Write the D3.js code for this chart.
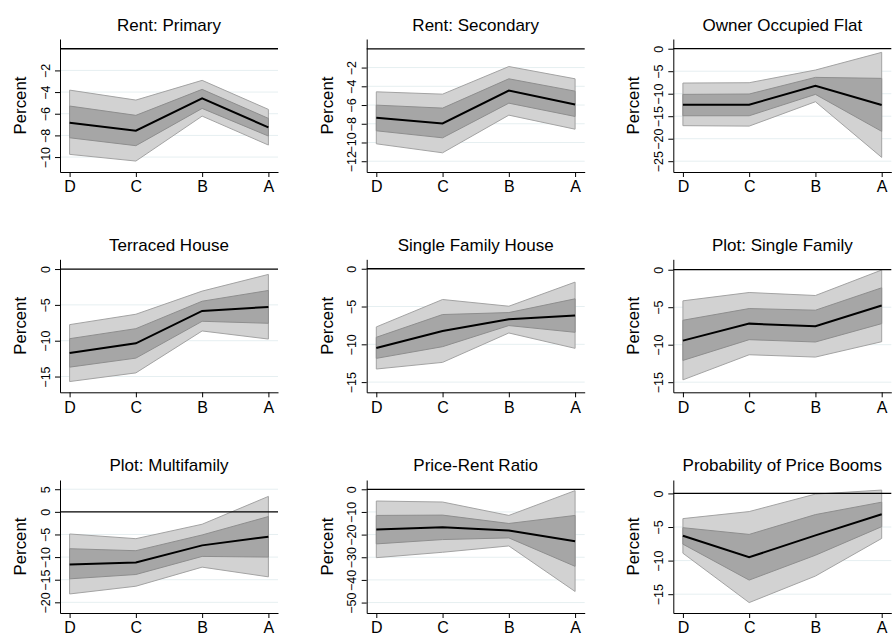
<!DOCTYPE html>
<html>
<head>
<meta charset="utf-8">
<script src="https://cdn.jsdelivr.net/npm/d3@7"></script>
<style>
  body { margin: 0; background: #fff; }
  svg { display: block; font-family: "Liberation Sans", Arial, sans-serif; }
</style>
</head>
<body>
<div id="chart"></div>
<script>
// Data
const categories = ["D", "C", "B", "A"];

const titles = [
  "Rent: Primary", "Rent: Secondary", "Owner Occupied Flat",
  "Terraced House", "Single Family House", "Plot: Single Family",
  "Plot: Multifamily", "Price-Rent Ratio", "Probability of Price Booms"
];

// point estimates
const estimates = [
  [-6.83, -7.57, -4.58, -7.26],
  [-7.37, -7.97, -4.45, -5.94],
  [-12.44, -12.44, -8.22, -12.52],
  [-11.73, -10.37, -5.84, -5.28],
  [-10.49, -8.23, -6.68, -6.19],
  [-9.46, -7.19, -7.54, -4.78],
  [-11.63, -11.19, -7.41, -5.48],
  [-17.75, -16.72, -18.2, -22.93],
  [-6.3, -9.5, -6.25, -3.1]
];

// inner band (upper / lower)
const innerHi = [
  [-5.29, -6.15, -3.75, -6.43],
  [-6.01, -6.33, -3.2, -4.52],
  [-10.15, -10.07, -6.37, -6.59],
  [-9.72, -8.32, -4.49, -2.99],
  [-9.07, -6.06, -5.8, -3.98],
  [-6.74, -5.18, -5.4, -2.41],
  [-8.15, -8.59, -5.11, -1.04],
  [-11.54, -11.39, -15.09, -11.54],
  [-5.1, -6.1, -3.15, -1.3]
];
const innerLo = [
  [-8.22, -8.95, -5.51, -8.06],
  [-8.75, -9.5, -5.8, -7.22],
  [-14.9, -14.9, -10.15, -18.37],
  [-13.69, -12.43, -7.29, -7.57],
  [-11.86, -10.31, -7.52, -8.41],
  [-12.1, -9.33, -9.64, -7.19],
  [-14.81, -13.85, -9.85, -10.0],
  [-24.1, -22.19, -21.45, -34.0],
  [-7.55, -12.9, -9.2, -4.95]
];

// outer band (upper / lower)
const outerHi = [
  [-3.82, -4.74, -2.92, -5.6],
  [-4.59, -4.84, -1.89, -3.2],
  [-7.63, -7.56, -4.74, -0.81],
  [-7.76, -6.31, -3.08, -0.75],
  [-7.7, -4.07, -4.96, -1.77],
  [-4.15, -3.04, -3.44, -0.04],
  [-4.89, -5.93, -2.74, 3.41],
  [-5.18, -5.62, -11.54, -0.59],
  [-3.75, -2.7, -0.1, 0.5]
];
const outerLo = [
  [-9.75, -10.37, -6.22, -8.89],
  [-10.14, -11.1, -7.08, -8.58],
  [-17.1, -17.2, -11.78, -24.15],
  [-15.7, -14.49, -8.64, -9.77],
  [-13.27, -12.39, -8.5, -10.53],
  [-14.69, -11.34, -11.65, -9.6],
  [-18.15, -16.44, -12.22, -14.37],
  [-30.18, -27.8, -25.0, -45.1],
  [-8.9, -16.25, -12.3, -6.7]
];

// y tick labels and axis limits per panel
const yTicks = [
  [-2, -4, -6, -8, -10],
  [-2, -4, -6, -8, -10, -12],
  [0, -5, -10, -15, -20, -25],
  [0, -5, -10, -15],
  [0, -5, -10, -15],
  [0, -5, -10, -15],
  [5, 0, -5, -10, -15, -20],
  [0, -10, -20, -30, -40, -50],
  [0, -5, -10, -15]
];
const yLimits = [
  [-11.38, 0.9], [-13.15, 1.05], [-27.4, 2.16],
  [-17.2, 1.36], [-16.35, 1.25], [-16.35, 1.39],
  [-22.36, 7.04], [-54.6, 4.1], [-17.8, 2.0]
];

// Layout
const W = 892, H = 635;
const colLeft = [60, 366.7, 673.3];
const rowTop = [39, 259.3, 480];
const titleY = [30.7, 250.7, 470.7];
const plotW = 218, plotH = 133;

const svg = d3.select("#chart").append("svg")
  .attr("width", W).attr("height", H);

titles.forEach((title, i) => {
  const col = i % 3, row = Math.floor(i / 3);
  const g = svg.append("g")
    .attr("transform", `translate(${colLeft[col]}, ${rowTop[row]})`);

  const x = d3.scalePoint().domain(categories).range([0, plotW]).padding(0.145);
  const y = d3.scaleLinear().domain(yLimits[i]).range([plotH, 0]);

  // gridlines
  g.selectAll(".grid").data(yTicks[i].filter(v => v !== 0)).enter()
    .append("line")
    .attr("x1", 0).attr("x2", plotW)
    .attr("y1", d => y(d)).attr("y2", d => y(d))
    .attr("stroke", "#e6eff1").attr("stroke-width", 1);

  const pts = categories.map((c, k) => ({
    c, est: estimates[i][k],
    ilo: innerLo[i][k], ihi: innerHi[i][k],
    olo: outerLo[i][k], ohi: outerHi[i][k]
  }));

  const outer = d3.area().x(d => x(d.c)).y0(d => y(d.olo)).y1(d => y(d.ohi));
  const inner = d3.area().x(d => x(d.c)).y0(d => y(d.ilo)).y1(d => y(d.ihi));
  const line = d3.line().x(d => x(d.c)).y(d => y(d.est));

  g.append("path").datum(pts).attr("d", outer)
    .attr("fill", "#d2d2d2").attr("stroke", "#a3a3a3").attr("stroke-width", 1);
  g.append("path").datum(pts).attr("d", inner)
    .attr("fill", "#a6a6a6").attr("stroke", "#8e8e8e").attr("stroke-width", 1);

  // zero line
  g.append("line")
    .attr("x1", 0).attr("x2", plotW)
    .attr("y1", y(0)).attr("y2", y(0))
    .attr("stroke", "#000").attr("stroke-width", 1.3);

  g.append("path").datum(pts).attr("d", line)
    .attr("fill", "none").attr("stroke", "#000").attr("stroke-width", 2);

  // x axis
  const xAxis = g.append("g")
    .attr("transform", `translate(0, ${plotH})`)
    .call(d3.axisBottom(x).tickSize(5).tickSizeOuter(0).tickPadding(4));
  xAxis.select(".domain").attr("stroke", "#000");
  xAxis.selectAll(".tick line").attr("stroke", "#000");
  xAxis.selectAll("text")
    .attr("font-size", 16).attr("fill", "#000")
    .attr("font-family", "Liberation Sans, Arial, sans-serif");

  // y axis, rotated tick labels
  const yAxis = g.append("g")
    .call(d3.axisLeft(y).tickValues(yTicks[i]).tickSize(5).tickSizeOuter(0)
      .tickFormat(d3.format("d")));
  yAxis.select(".domain").attr("stroke", "#000");
  yAxis.selectAll(".tick line").attr("stroke", "#000");
  yAxis.selectAll("text")
    .attr("font-size", 12.5).attr("fill", "#000")
    .attr("font-family", "Liberation Sans, Arial, sans-serif")
    .attr("text-anchor", "middle")
    .attr("transform", "rotate(-90)")
    .attr("x", 0).attr("dy", 0)
    .attr("y", -10.5);

  // y label
  g.append("text")
    .attr("transform", `translate(-34, ${plotH / 2}) rotate(-90)`)
    .attr("text-anchor", "middle")
    .attr("font-size", 16.8)
    .text("Percent");

  // title
  g.append("text")
    .attr("x", plotW / 2).attr("y", titleY[row] - rowTop[row])
    .attr("text-anchor", "middle")
    .attr("font-size", 17)
    .text(title);
});
</script>
</body>
</html>
